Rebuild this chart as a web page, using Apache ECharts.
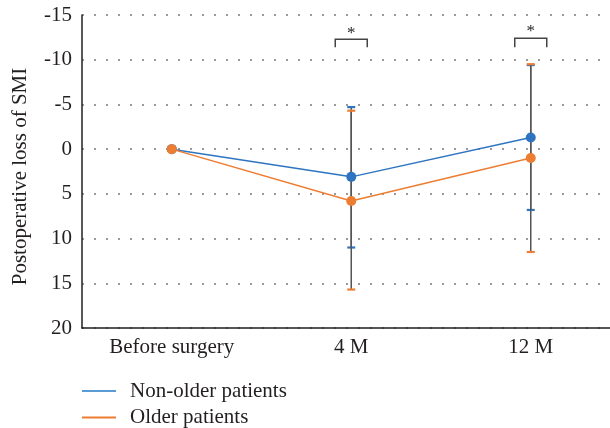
<!DOCTYPE html>
<html>
<head>
<meta charset="utf-8">
<script src="https://cdn.jsdelivr.net/npm/echarts@6/dist/echarts.min.js"></script>
<style>
  html, body { margin: 0; padding: 0; background: #fff; }
  #chart { width: 610px; height: 428px; }
</style>
</head>
<body>
<div id="chart"></div>
<script>
// Time points after surgery
const categories = ['Before surgery', '4 M', '12 M'];
const yTicks = [-15, -10, -5, 0, 5, 10, 15, 20];

// Mean postoperative loss of SMI
const nonOlderMean = [0, 3.1, -1.3];
const olderMean = [0, 5.8, 1.0];

// Error ranges [category index, upper end, lower end]
const nonOlderError = [[1, -4.7, 11.0], [2, -9.4, 6.8]];
const olderError = [[1, -4.3, 15.7], [2, -9.5, 11.5]];

// Significance markers [category index, bracket top, bracket leg end, star level]
const significance = [[1, -12.3, -11.4, -12.9], [2, -12.4, -11.4, -13.1]];

const BLUE = '#2e74c0';
const ORANGE = '#ed7d31';
const FONT = '"Liberation Serif", "DejaVu Serif", serif';
const TEXT = '#231f20';
const FS = 21;

function errorSeries(name, data, color, z) {
  return {
    type: 'custom',
    name: name + ' error',
    z: z,
    data: data,
    renderItem: function (params, api) {
      const x = api.value(0);
      const top = api.coord([x, api.value(1)]);
      const bot = api.coord([x, api.value(2)]);
      const half = 4;
      return {
        type: 'group',
        children: [
          { type: 'line', shape: { x1: top[0], y1: top[1], x2: bot[0], y2: bot[1] },
            style: { stroke: '#555555', lineWidth: 1.5 } },
          { type: 'line', shape: { x1: top[0] - half, y1: top[1], x2: top[0] + half, y2: top[1] },
            style: { stroke: color, lineWidth: 2.2 } },
          { type: 'line', shape: { x1: bot[0] - half, y1: bot[1], x2: bot[0] + half, y2: bot[1] },
            style: { stroke: color, lineWidth: 2.2 } }
        ]
      };
    },
    silent: true
  };
}

function legendFor(name, color, top) {
  return {
    orient: 'vertical',
    left: 82,
    top: top,
    padding: 0,
    itemWidth: 34,
    itemHeight: 2,
    icon: 'rect',
    textStyle: { fontFamily: FONT, fontSize: FS, color: TEXT, lineHeight: 22, padding: [0, 0, 0, 9] },
    data: [{ name: name, itemStyle: { color: color } }]
  };
}

const chart = echarts.init(document.getElementById('chart'));
chart.setOption({
  animation: false,
  grid: { left: 82, top: 15, bottom: 100, right: -10.5, outerBoundsMode: 'none', containLabel: false },
  xAxis: {
    type: 'category',
    data: categories,
    boundaryGap: true,
    axisLine: { onZero: false, lineStyle: { color: '#231f20', width: 1.5 } },
    axisTick: { show: false },
    axisLabel: { fontFamily: FONT, fontSize: FS, color: TEXT, margin: 9 }
  },
  yAxis: {
    type: 'value',
    inverse: true,
    min: yTicks[0],
    max: yTicks[yTicks.length - 1],
    interval: 5,
    name: 'Postoperative loss of SMI',
    nameLocation: 'middle',
    nameGap: 51,
    nameTextStyle: { fontFamily: FONT, fontSize: FS, color: TEXT, padding: [0, 10, 0, 0] },
    axisLine: { show: true, lineStyle: { color: '#231f20', width: 1.5 } },
    axisTick: { show: false },
    axisLabel: { fontFamily: FONT, fontSize: FS, color: TEXT, margin: 10 },
    splitLine: { show: true, lineStyle: { color: '#9a9a9a', width: 2, type: [2, 10] } }
  },
  legend: [
    legendFor('Non-older patients', '#5b9bd5', 380),
    legendFor('Older patients', ORANGE, 406.5)
  ],
  series: [
    errorSeries('Non-older patients', nonOlderError, BLUE, 2),
    errorSeries('Older patients', olderError, ORANGE, 3),
    {
      type: 'line',
      name: 'Non-older patients',
      data: nonOlderMean,
      z: 4,
      symbol: 'circle',
      symbolSize: 10,
      itemStyle: { color: BLUE },
      lineStyle: { color: BLUE, width: 1.5 }
    },
    {
      type: 'line',
      name: 'Older patients',
      data: olderMean,
      z: 5,
      symbol: 'circle',
      symbolSize: 10,
      itemStyle: { color: ORANGE },
      lineStyle: { color: ORANGE, width: 1.5 }
    },
    {
      type: 'custom',
      name: 'significance',
      z: 6,
      data: significance,
      silent: true,
      renderItem: function (params, api) {
        const x = api.value(0);
        const top = api.coord([x, api.value(1)]);
        const leg = api.coord([x, api.value(2)]);
        const star = api.coord([x, api.value(3)]);
        const half = 16;
        return {
          type: 'group',
          children: [
            { type: 'polyline',
              shape: { points: [[top[0] - half, leg[1]], [top[0] - half, top[1]], [top[0] + half, top[1]], [top[0] + half, leg[1]]] },
              style: { stroke: '#444444', lineWidth: 1.5, fill: null } },
            { type: 'text',
              style: { text: '*', x: star[0], y: star[1], align: 'center', verticalAlign: 'middle',
                       font: '17px ' + FONT, fill: TEXT } }
          ]
        };
      }
    }
  ]
});
</script>
</body>
</html>
